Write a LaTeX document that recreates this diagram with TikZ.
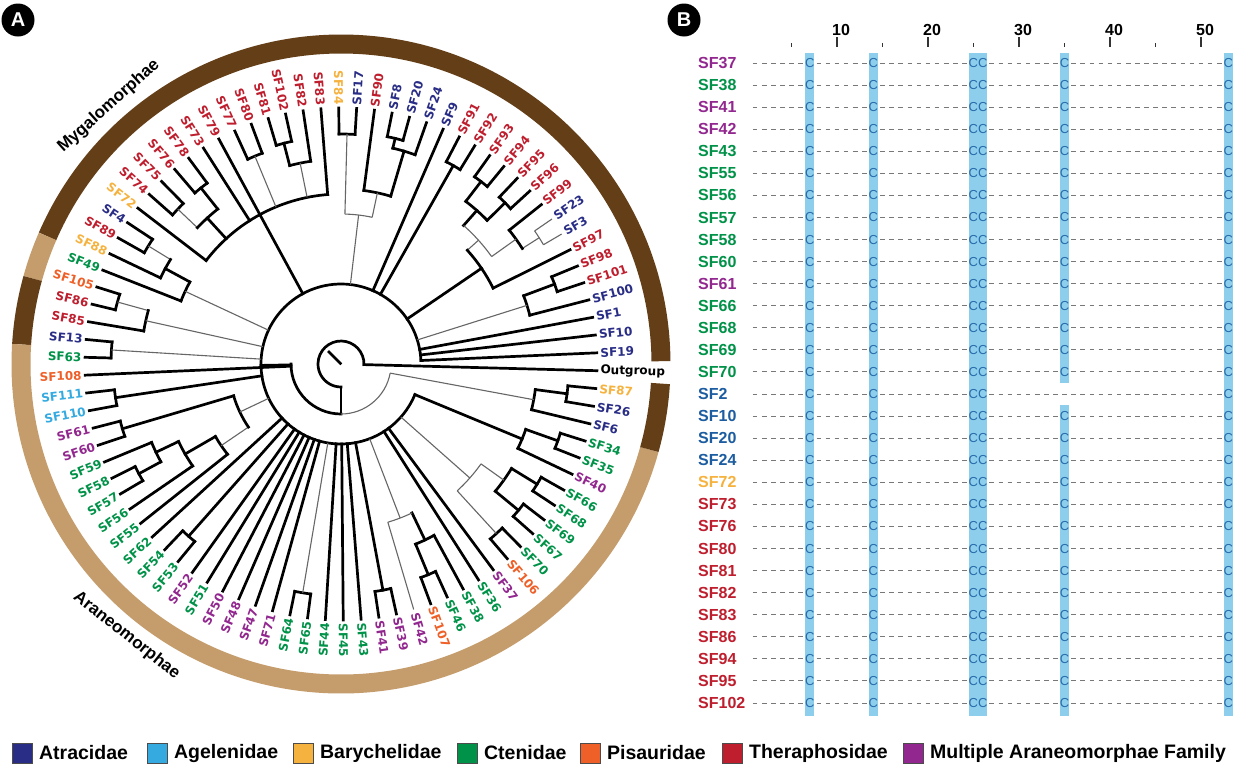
\documentclass[tikz,border=0pt]{standalone}
\usepackage{fontspec}
\setmainfont{Liberation Sans}
\newfontfamily\tipfont{DejaVu Sans}
\usetikzlibrary{positioning}

\definecolor{atr}{RGB}{41,45,133}
\definecolor{age}{RGB}{52,170,224}
\definecolor{bar}{RGB}{246,178,62}
\definecolor{cte}{RGB}{0,146,72}
\definecolor{pis}{RGB}{238,96,40}
\definecolor{the}{RGB}{190,30,45}
\definecolor{mul}{RGB}{146,39,143}
\definecolor{myg}{RGB}{99,62,22}
\definecolor{ara}{RGB}{197,157,108}
\definecolor{hilite}{RGB}{140,206,236}
\definecolor{resid}{RGB}{38,108,170}
\definecolor{gapgray}{RGB}{120,120,120}
\definecolor{alnblue}{RGB}{28,92,160}

\tikzset{
  branch/.style={line width=2.7pt, line cap=rect, black},
  weak/.style={line width=1.1pt, black!60},
  band/.style={line width=19pt},
  tiplabel/.style={font=\tipfont\bfseries\fontsize{12}{13}\selectfont, inner sep=0.5pt},
  outlabel/.style={font=\tipfont\bfseries\fontsize{12}{13}\selectfont, inner sep=0.5pt},
  cladename/.style={font=\bfseries\fontsize{17}{17}\selectfont, inner sep=0pt},
  panel/.style={circle, fill=black, text=white, inner sep=0pt, minimum size=33pt,
    font=\bfseries\fontsize{20}{20}\selectfont},
  rowlabel/.style={font=\bfseries\fontsize{16}{16}\selectfont, inner sep=0pt, anchor=west},
  gapdash/.style={line width=1pt, gapgray, dash pattern=on 4.6pt off 4.5pt},
  residue/.style={font=\fontsize{13}{13}\selectfont, text=resid, inner sep=0pt},
  column/.style={fill=hilite},
  tick/.style={line width=1.2pt, black!80},
  ruler/.style={font=\bfseries\fontsize{16}{16}\selectfont, inner sep=0pt},
  key/.style={draw=black!70, line width=0.8pt, minimum size=20pt, inner sep=0pt},
  keytext/.style={font=\bfseries\fontsize{19.5}{20}\selectfont, inner sep=0pt},
}

\newcommand\spoke[4][branch]{\draw[#1] ({-1.5+4*(#2)}:#3) -- ({-1.5+4*(#2)}:#4);}
\newcommand\bow[4][branch]{\draw[#1] ({-1.5+4*(#3)}:#2)
  arc[start angle={-1.5+4*(#3)}, end angle={-1.5+4*(#4)}, radius=#2pt];}

\begin{document}
\begin{tikzpicture}[x=1pt,y=1pt]
  \fill[white] (0,0) rectangle (1234,-766);
  \useasboundingbox (0,0) rectangle (1234,-766);

  \node[panel] (pA) at (18,-20) {A};
  \node[panel] (pB) at (684,-20) {B};

  \begin{scope}[shift={(341,-364)}]
    \foreach \ang/\angb/\col in {0.5/156.5/myg, 156.5/164.5/ara, 164.5/176.5/myg,
        176.5/344.5/ara, 344.5/356.5/myg}
      \draw[band, \col] (\ang:320) arc[start angle=\ang, end angle=\angb, radius=320pt];

    \node[cladename, rotate=42] (myglab) at (132:347) {Mygalomorphae};
    \node[cladename, rotate=-38.3] (aralab) at (231.7:346) {Araneomorphae};

    % centre
    \draw[branch] (-1.5:23) arc[start angle=-1.5, end angle=270, radius=23pt];
    \draw[branch] (135:1) -- (135:17);
    \draw[branch] (270:23) -- (270:50);
    \draw[branch] (180:50) arc[start angle=180, end angle=270, radius=50pt];
    \draw[weak] (270:50) arc[start angle=270, end angle=349.5, radius=50pt];
    \draw[branch] (181:50) -- (181:80);
    \bow{80}{1}{84.75}

    % Mygalomorphae side
    \bow{195}{4}{5.5} \bow{228}{5}{6} \spoke[weak]{4.75}{80}{195} \spoke{5.5}{195}{228}
    \bow[weak]{235}{8}{9} \spoke[weak]{8.5}{215}{235}
    \bow{215}{8.5}{10} \spoke[weak]{9.25}{185}{215}
    \bow{230}{11}{12} \spoke{11.5}{205}{230}
    \bow{230}{13}{14} \spoke{13.5}{205}{230}
    \bow{205}{11.5}{13.5} \spoke{12.5}{185}{205}
    \bow[weak]{185}{9.25}{12.5} \spoke[weak]{10.875}{170}{185}
    \bow{170}{7}{10.875} \spoke{8.94}{80}{170}
    \bow{228}{15}{16} \spoke{15.5}{80}{228}
    \bow{232}{19}{20} \spoke{19.5}{222}{232}
    \bow{222}{18}{19.5} \spoke{18.75}{175}{222}
    \bow{175}{18.75}{21} \spoke[weak]{19.875}{150}{175}
    \bow{230}{22}{23} \spoke[weak]{22.5}{150}{230}
    \bow[weak]{150}{19.875}{22.5} \spoke[weak]{21.19}{80}{150}
    \bow{170}{24}{36} \spoke{30}{80}{170}
    \bow{228}{26}{27} \spoke{26.5}{205}{228}
    \bow{205}{25}{26.5} \spoke[weak]{25.75}{170}{205}
    \bow{225}{28}{29} \spoke[weak]{28.5}{170}{225}
    \bow{225}{32}{33} \spoke{32.5}{198}{225}
    \bow{225}{34}{35} \spoke[weak]{34.5}{198}{225}
    \bow{198}{32.5}{34.5} \spoke{33.5}{170}{198}
    \bow{226}{37}{38} \spoke[weak]{37.5}{200}{226}
    \bow{200}{37.5}{39} \spoke{38.25}{172}{200}
    \bow{172}{38.25}{40} \spoke[weak]{39.125}{80}{172}
    \bow{232}{41}{42} \spoke[weak]{41.5}{200}{232}
    \bow{200}{41.5}{43} \spoke[weak]{42.25}{80}{200}
    \bow{230}{44}{45} \spoke[weak]{44.5}{80}{230}

    % Araneomorphae side
    \bow{228}{47}{48} \spoke{47.5}{80}{228}
    \bow{228}{49}{50} \spoke{49.5}{112}{228}
    \bow{230}{52}{53} \spoke{52.5}{205}{230}
    \bow{205}{51}{52.5} \spoke{51.75}{180}{205}
    \bow{180}{51.75}{54} \spoke{52.875}{145}{180}
    \bow{145}{52.875}{55} \spoke[weak]{53.94}{112}{145}
    \bow{112}{49.5}{53.94} \spoke[weak]{51.72}{80}{112}
    \bow{230}{57}{58} \spoke{57.5}{80}{230}
    \bow{232}{65}{66} \spoke[weak]{65.5}{80}{232}
    \bow{230}{70}{71} \spoke{70.5}{80}{230}
    \bow{228}{73}{74} \spoke{73.5}{195}{228}
    \bow{195}{73.5}{75} \spoke{74.25}{165}{195}
    \bow[weak]{165}{72}{74.25} \spoke[weak]{73.125}{80}{165}
    \bow{230}{78}{79} \spoke[weak]{78.5}{172}{230}
    \bow{230}{80}{81} \spoke{80.5}{200}{230}
    \bow{230}{82}{83} \spoke{82.5}{200}{230}
    \bow{200}{80.5}{82.5} \spoke[weak]{81.5}{172}{200}
    \bow[weak]{172}{78.5}{81.5} \spoke[weak]{80}{80}{172}
    \bow{230}{85}{86} \spoke{85.5}{196}{230}
    \bow{196}{84}{85.5} \spoke{84.75}{80}{196}
    \bow{228}{88}{89} \spoke{88.5}{196}{228}
    \bow{196}{87}{88.5} \spoke[weak]{87.75}{50}{196}

    % tips
    \spoke{0}{23}{256}
    \node[outlabel, anchor=west, rotate=-1.5] (tOut) at (-1.5:259) {Outgroup};
    \foreach \ix/\nm/\col/\base/\sty in {
        1/SF19/atr/80/branch, 2/SF10/atr/80/branch, 3/SF1/atr/80/branch,
        4/SF100/atr/195/branch, 5/SF101/the/228/branch, 6/SF98/the/228/branch,
        7/SF97/the/170/branch, 8/SF3/atr/235/weak, 9/SF23/atr/235/weak,
        10/SF99/the/215/branch, 11/SF96/the/230/branch, 12/SF95/the/230/branch,
        13/SF94/the/230/branch, 14/SF93/the/230/branch, 15/SF92/the/228/branch,
        16/SF91/the/228/branch, 17/SF9/atr/80/branch, 18/SF24/atr/222/branch,
        19/SF20/atr/232/branch, 20/SF8/atr/232/branch, 21/SF90/the/175/branch,
        22/SF17/atr/230/branch, 23/SF84/bar/230/branch, 24/SF83/the/170/branch,
        25/SF82/the/205/branch, 26/SF102/the/228/branch, 27/SF81/the/228/branch,
        28/SF80/the/225/branch, 29/SF77/the/225/branch, 30/SF79/the/170/branch,
        31/SF73/the/170/branch, 32/SF78/the/225/branch, 33/SF76/the/225/branch,
        34/SF75/the/225/branch, 35/SF74/the/225/branch, 36/SF72/bar/170/branch,
        37/SF4/atr/226/branch, 38/SF89/the/226/branch, 39/SF88/bar/200/branch,
        40/SF49/cte/172/branch, 41/SF105/pis/232/branch, 42/SF86/the/232/branch,
        43/SF85/the/200/branch, 44/SF13/atr/230/branch, 45/SF63/cte/230/branch,
        46/SF108/pis/50/branch, 47/SF111/age/228/branch, 48/SF110/age/228/branch,
        49/SF61/mul/228/branch, 50/SF60/mul/228/branch, 51/SF59/cte/205/branch,
        52/SF58/cte/230/branch, 53/SF57/cte/230/branch, 54/SF56/cte/180/branch,
        55/SF55/cte/145/branch, 56/SF62/cte/80/branch, 57/SF54/cte/230/branch,
        58/SF53/cte/230/branch, 59/SF52/mul/80/branch, 60/SF51/cte/80/branch,
        61/SF50/mul/80/branch, 62/SF48/mul/80/branch, 63/SF47/mul/80/branch,
        64/SF71/mul/80/branch, 65/SF64/cte/232/branch, 66/SF65/cte/232/branch,
        67/SF44/cte/80/branch, 68/SF45/cte/80/branch, 69/SF43/cte/80/branch,
        70/SF41/mul/230/branch, 71/SF39/mul/230/branch, 72/SF42/mul/165/weak,
        73/SF107/pis/228/branch, 74/SF46/cte/228/branch, 75/SF38/cte/195/branch,
        76/SF36/cte/80/branch, 77/SF37/mul/80/branch, 78/SF106/pis/230/branch,
        79/SF70/cte/230/branch, 80/SF67/cte/230/branch, 81/SF69/cte/230/branch,
        82/SF68/cte/230/branch, 83/SF66/cte/230/branch, 84/SF40/mul/196/branch,
        85/SF35/cte/230/branch, 86/SF34/cte/230/branch, 87/SF6/atr/196/branch,
        88/SF26/atr/228/branch, 89/SF87/bar/228/branch} {
      \spoke[\sty]{\ix}{\base}{256}
      \pgfmathsetmacro\ang{-1.5+4*\ix}
      \pgfmathtruncatemacro\flip{and(\ang>90,\ang<270)}
      \ifnum\flip=1
        \pgfmathsetmacro\rot{\ang-180}
        \node[tiplabel, text=\col, anchor=east, rotate=\rot] (t\nm) at (\ang:259) {\nm};
      \else
        \node[tiplabel, text=\col, anchor=west, rotate=\ang] (t\nm) at (\ang:259) {\nm};
      \fi
    }
  \end{scope}

  % alignment
  \foreach \pos in {7,14,53}
    \fill[column] ({746+9.1*\pos-4.55},-53) rectangle ({746+9.1*\pos+4.55},-716);
  \fill[column] ({746+9.1*25-4.55},-53) rectangle ({746+9.1*26+4.55},-716);
  \fill[column] ({746+9.1*35-4.55},-53) rectangle ({746+9.1*35+4.55},-383);
  \fill[column] ({746+9.1*35-4.55},-405) rectangle ({746+9.1*35+4.55},-716);

  \foreach \pos in {5,15,...,45}
    \draw[tick] ({746+9.1*\pos},-43) -- ++(0,-4);
  \foreach \pos in {10,20,...,50} {
    \draw[tick] ({746+9.1*\pos},-37) -- ++(0,-10);
    \node[ruler] (n\pos) at ({746+9.1*\pos+4},-30) {\pos};
  }

  \foreach \nm/\col/\gap [count=\row from 0] in {
      SF37/mul/0, SF38/cte/0, SF41/mul/0, SF42/mul/0, SF43/cte/0, SF55/cte/0,
      SF56/cte/0, SF57/cte/0, SF58/cte/0, SF60/cte/0, SF61/mul/0, SF66/cte/0,
      SF68/cte/0, SF69/cte/0, SF70/cte/0, SF2/alnblue/1, SF10/alnblue/0,
      SF20/alnblue/0, SF24/alnblue/0, SF72/bar/0, SF73/the/0, SF76/the/0,
      SF80/the/0, SF81/the/0, SF82/the/0, SF83/the/0, SF86/the/0, SF94/the/0,
      SF95/the/0, SF102/the/0} {
    \pgfmathsetmacro\y{-63-22.07*\row}
    \node[rowlabel, text=\col] (r\nm) at (698,\y) {\nm};
    \foreach \ua/\ub in {1/6, 8/13, 15/24}
      \draw[gapdash] ({746+9.1*\ua-2.3},\y) -- ({746+9.1*\ub+2.3},\y);
    \foreach \pos in {7,14,53}
      \node[residue] at ({746+9.1*\pos},\y) {C};
    \node[residue] at ({746+9.1*25.5},\y) {CC};
    \ifnum\gap=1
      \draw[gapdash] ({746+9.1*27-2.3},\y) -- ({746+9.1*52+2.3},\y);
    \else
      \draw[gapdash] ({746+9.1*27-2.3},\y) -- ({746+9.1*34+2.3},\y);
      \draw[gapdash] ({746+9.1*36-2.3},\y) -- ({746+9.1*52+2.3},\y);
      \node[residue] at ({746+9.1*35},\y) {C};
    \fi
  }

  % legend
  \foreach \x/\col/\txt in {12/atr/Atracidae, 147/age/Agelenidae, 293/bar/Barychelidae,
      457/cte/Ctenidae, 580/pis/Pisauridae, 722/the/Theraphosidae,
      903/mul/Multiple Araneomorphae Family} {
    \node[key, fill=\col] (k\col) at (\x+10.5,-753) {};
    \node[keytext, right=6pt of k\col] (l\col) {\txt};
  }
\end{tikzpicture}
\end{document}
